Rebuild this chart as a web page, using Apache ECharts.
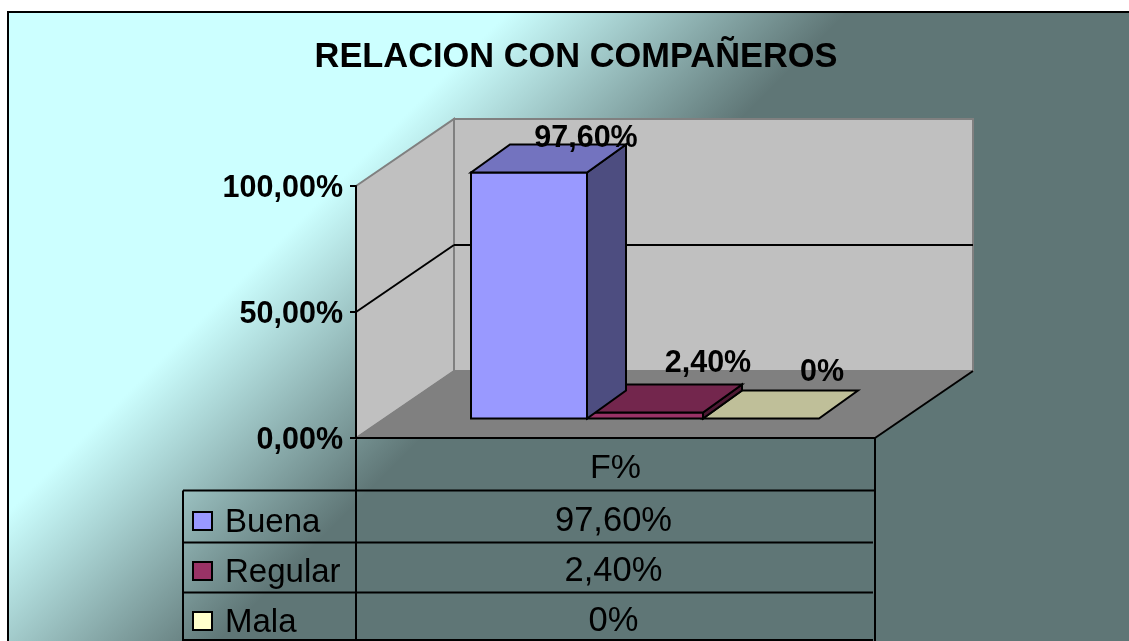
<!DOCTYPE html>
<html>
<head>
<meta charset="utf-8">
<style>html,body{margin:0;padding:0;background:#fff}#c{width:1129px;height:641px}</style>
<script src="https://cdn.jsdelivr.net/npm/echarts@6/dist/echarts.min.js"></script>
</head>
<body>
<div id="c"></div>
<script>
var chartTitle = 'RELACION CON COMPAÑEROS';
var axisCategories = ['F%'];
var seriesNames = ['Buena', 'Regular', 'Mala'];
var seriesValues = [97.6, 2.4, 0];
var valueLabels = ['97,60%', '2,40%', '0%'];
var axisTicks = [0, 50, 100];

var frontColors = ['#9999FF', '#993366', '#FFFFCC'];
var topColors = ['#7373BF', '#73264D', '#BFBF99'];
var sideColors = ['#4D4D80', '#4D1933', '#808066'];
var labelShift = [[57, -34], [63, -49], [61, -46]];

var FONT = '"Liberation Sans", Arial, sans-serif';
var GRID = {left: 356, top: 186, width: 519, height: 252};
var DEPTH = [98, -67];
var BAR_DEPTH = [39, -28];
var BAR_BAND = 0.2235;
var rowLines = [490.5, 542.5, 592.5, 640];
var rowCentres = [519, 569, 619];
var LINE = {stroke: '#000', lineWidth: 2, fill: 'none'};

var chart = echarts.init(document.getElementById('c'), null, {renderer: 'canvas'});

function poly(points, fill, stroke, lw) {
  return {type: 'polygon', shape: {points: points}, style: {fill: fill, stroke: stroke, lineWidth: lw}};
}
function seg(a, b, color, lw) {
  return {type: 'line', shape: {x1: a[0], y1: a[1], x2: b[0], y2: b[1]}, style: {stroke: color, lineWidth: lw, fill: 'none'}};
}

function renderWalls(params, api) {
  var bandW = api.size([1, 0])[0];
  var x0 = api.coord([0, 0])[0] - bandW / 2, x1 = x0 + bandW;
  var y0 = api.coord([0, axisTicks[0]])[1];
  var yTop = api.coord([0, axisTicks[axisTicks.length - 1]])[1];
  var dx = DEPTH[0], dy = DEPTH[1];
  var kids = [
    poly([[x0, yTop], [x0 + dx, yTop + dy], [x0 + dx, y0 + dy], [x0, y0]], '#C0C0C0', '#808080', 2),
    poly([[x0 + dx, yTop + dy], [x1 + dx, yTop + dy], [x1 + dx, y0 + dy], [x0 + dx, y0 + dy]], '#C0C0C0', '#808080', 2),
    poly([[x0, y0], [x1, y0], [x1 + dx, y0 + dy], [x0 + dx, y0 + dy]], '#808080', '#808080', 1)
  ];
  axisTicks.slice(1, -1).forEach(function (t) {
    var y = api.coord([0, t])[1];
    kids.push(seg([x0, y], [x0 + dx, y + dy], '#000', 2));
    kids.push(seg([x0 + dx, y + dy], [x1 + dx, y + dy], '#000', 2));
  });
  kids.push(seg([x1, y0], [x1 + dx, y0 + dy], '#000', 2));
  return {type: 'group', children: kids};
}

function barRenderer(i) {
  return function (params, api) {
    var bandW = api.size([1, 0])[0];
    var zero = api.coord([0, 0]);
    var top = api.coord([0, api.value(1)]);
    var w = bandW * BAR_BAND;
    var ox = (DEPTH[0] - BAR_DEPTH[0]) / 2, oy = (DEPTH[1] - BAR_DEPTH[1]) / 2;
    var l = zero[0] - 1.5 * w + i * w + ox, r = l + w;
    var b = zero[1] + oy, t = top[1] + oy;
    var dx = BAR_DEPTH[0], dy = BAR_DEPTH[1];
    var kids = [];
    if (b - t > 0.5) {
      kids.push(poly([[r, t], [r + dx, t + dy], [r + dx, b + dy], [r, b]], sideColors[i], '#000', 2));
      kids.push(poly([[l, t], [r, t], [r, b], [l, b]], frontColors[i], '#000', 2));
    }
    kids.push(poly([[l, t], [r, t], [r + dx, t + dy], [l + dx, t + dy]], topColors[i], '#000', 2));
    kids.push({
      type: 'text',
      style: {
        x: (l + r) / 2 + labelShift[i][0], y: t + labelShift[i][1],
        text: valueLabels[i], font: 'bold 30.5px ' + FONT, fill: '#000',
        align: 'center', verticalAlign: 'middle'
      }
    });
    return {type: 'group', children: kids};
  };
}

var right = GRID.left + GRID.width;
var tableLeft = 183;
var graphics = [
  {type: 'rect', z: -10, shape: {x: 8, y: 12, width: 1125, height: 640},
   style: {
     fill: new echarts.graphic.LinearGradient(260, 260, 430, 430,
       [{offset: 0, color: '#CCFFFF'}, {offset: 1, color: '#5F7676'}], true),
     stroke: '#000', lineWidth: 2
   }},
  {type: 'line', shape: {x1: right, y1: GRID.top + GRID.height, x2: right, y2: 641}, style: LINE},
  {type: 'line', shape: {x1: GRID.left, y1: GRID.top + GRID.height, x2: GRID.left, y2: 641}, style: LINE},
  {type: 'line', shape: {x1: tableLeft, y1: rowLines[0], x2: tableLeft, y2: 641}, style: LINE}
];
rowLines.forEach(function (y, k) {
  graphics.push({type: 'line', shape: {x1: tableLeft, y1: y, x2: k === 0 ? right : right - 2, y2: y}, style: LINE});
});
seriesNames.forEach(function (name, i) {
  var cy = rowCentres[i];
  graphics.push({type: 'rect', shape: {x: 193, y: cy - 7, width: 19, height: 18},
    style: {fill: frontColors[i], stroke: '#000', lineWidth: 2}});
  graphics.push({type: 'text', style: {x: 225, y: cy + 4, text: name, font: '33px ' + FONT, fill: '#000', align: 'left', verticalAlign: 'middle'}});
  graphics.push({type: 'text', style: {x: GRID.left + GRID.width / 2 - 2, y: cy + 2, text: valueLabels[i], font: '34.5px ' + FONT, fill: '#000', align: 'center', verticalAlign: 'middle'}});
});

var series = [{
  name: 'walls', type: 'custom', coordinateSystem: 'cartesian2d', silent: true, z: 1,
  data: [[0, 0]], renderItem: renderWalls, encode: {x: 0, y: 1}
}];
[2, 1, 0].forEach(function (i) {
  series.push({
    name: seriesNames[i], type: 'custom', coordinateSystem: 'cartesian2d', z: 2 + (2 - i),
    data: [[0, seriesValues[i]]], renderItem: barRenderer(i), encode: {x: 0, y: 1}
  });
});

chart.setOption({
  animation: false,
  backgroundColor: '#fff',
  title: {text: chartTitle, left: 571, top: 36, textAlign: 'center',
    textStyle: {fontFamily: FONT, fontWeight: 'bold', fontSize: 34.4, color: '#000'}},
  grid: {left: GRID.left, top: GRID.top, width: GRID.width, height: GRID.height, containLabel: false},
  xAxis: {type: 'category', data: axisCategories, z: 6,
    axisLine: {lineStyle: {color: '#000', width: 2}},
    axisTick: {show: false},
    axisLabel: {fontFamily: FONT, fontSize: 34, color: '#000', margin: 14}},
  yAxis: {type: 'value', min: 0, max: 100, interval: 50, z: 6,
    axisLine: {show: true, lineStyle: {color: '#000', width: 2}},
    axisTick: {show: true, length: 6, lineStyle: {color: '#000', width: 2}},
    splitLine: {show: false},
    axisLabel: {fontFamily: FONT, fontWeight: 'bold', fontSize: 30.5, color: '#000', margin: 13,
      verticalAlign: 'top', lineHeight: 6,
      formatter: function (v) { return v.toFixed(2).replace('.', ',') + '%'; }}},
  graphic: {elements: graphics},
  series: series
});
</script>
</body>
</html>
